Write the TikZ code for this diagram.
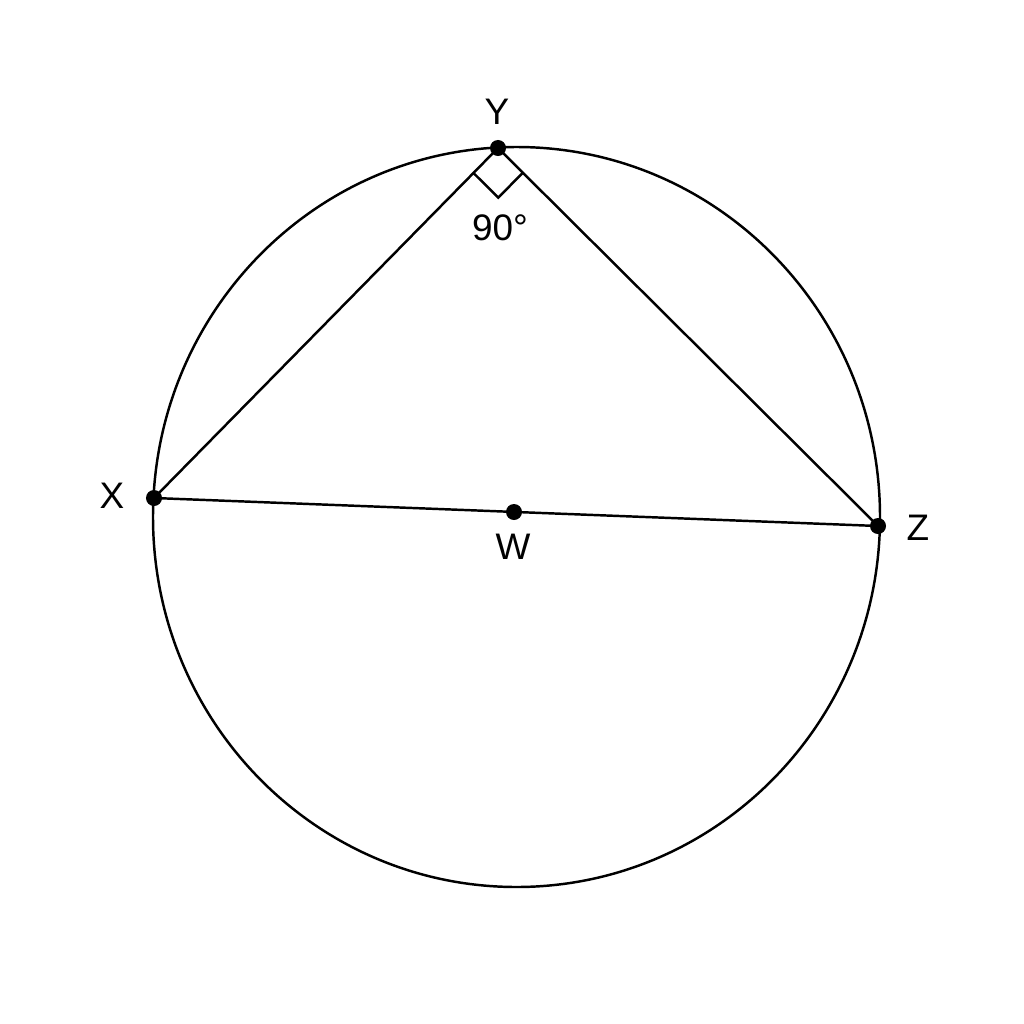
\documentclass[tikz,border=0pt]{standalone}
\usepackage{fontspec}
\setmainfont{Liberation Sans}
\usetikzlibrary{calc}
\tikzset{
  dot/.style={circle,fill=black,inner sep=0pt,minimum size=0.16cm},
  lbl/.style={font=\fontsize{10.5}{12}\selectfont}
}
\begin{document}
\begin{tikzpicture}[x=0.01cm,y=-0.01cm,line width=0.7pt]
  \useasboundingbox (0,0) rectangle (1024,1024);
  \draw (516.5,517) ellipse [x radius=363.5,y radius=370];
  \node[dot] (Y) at (498,148) {};
  \node[dot] (X) at (154,498) {};
  \node[dot] (Z) at (878,526) {};
  \node[dot] (W) at (514,512) {};
  \draw (X.center) -- (Y.center) -- (Z.center) -- cycle;
  % right angle at Y
  \coordinate (a) at ($(Y.center)!0.35cm!(X.center)$);
  \coordinate (b) at ($(Y.center)!0.35cm!(Z.center)$);
  \draw (a) -- ($(a)+(b)-(Y.center)$) -- (b);
  \node[lbl] (lY) at (497,112) {Y};
  \node[lbl] (lX) at (112,496) {X};
  \node[lbl] (lZ) at (918,528) {Z};
  \node[lbl] (lW) at (513,547) {W};
  \node[lbl] (l90) at (500,228) {90°};
\end{tikzpicture}
\end{document}
